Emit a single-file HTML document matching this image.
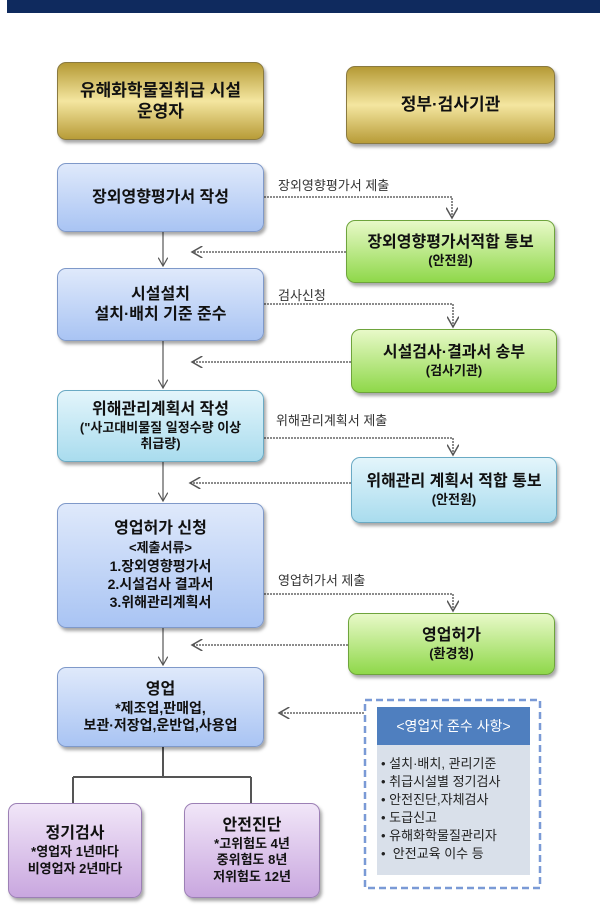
<!DOCTYPE html>
<html><head><meta charset="utf-8"><style>
body{margin:0;width:600px;height:909px;background:#fff;position:relative;overflow:hidden;font-family:"Liberation Sans","Noto Sans CJK KR",sans-serif;}
.b{position:absolute;box-sizing:border-box;border-radius:9px;display:flex;flex-direction:column;justify-content:center;align-items:center;text-align:center;font-weight:bold;color:#111;line-height:1.25;box-shadow:2px 3px 3px rgba(0,0,0,.35);}
.gold{background:linear-gradient(#b59a35,#f4e6a0 50%,#b89c38);border:1px solid #8a7a40;font-size:17px;}
.blue{background:linear-gradient(#dfe9fb,#a9c4f3);border:1px solid #7f99c9;font-size:16px;}
.green{background:linear-gradient(#e8f9c8,#8fd84a);border:1px solid #6ea43c;font-size:16px;}
.cyan{background:linear-gradient(#e3f5fb,#a9dcee);border:1px solid #6aaac4;font-size:16px;}
.pur{background:linear-gradient(#f1e6f8,#c9a7df);border:1px solid #9c80b5;font-size:16px;}
.s{font-size:13px;}
.lbl{position:absolute;font-size:13px;color:#333;}
</style></head><body>
<div style="position:absolute;left:7px;top:0px;width:593px;height:13px;background:#0f2a5e;"></div>
<svg style="position:absolute;left:0;top:0" width="600" height="909">
<defs><marker id="a" markerWidth="8" markerHeight="8" refX="7" refY="4" orient="auto"><path d="M0,0 L7,4 L0,8" fill="none" stroke="#555" stroke-width="1"/></marker></defs>
<g stroke="#666" stroke-width="1.5" fill="none" stroke-dasharray="2,1">
<path d="M264,197 H452 V218" marker-end="url(#a)"/>
<path d="M346,252 H192" marker-end="url(#a)"/>
<path d="M264,304 H453 V327" marker-end="url(#a)"/>
<path d="M351,362 H192" marker-end="url(#a)"/>
<path d="M264,438 H453 V455" marker-end="url(#a)"/>
<path d="M351,483 H190" marker-end="url(#a)"/>
<path d="M264,594 H453 V611" marker-end="url(#a)"/>
<path d="M348,645 H192" marker-end="url(#a)"/>
<path d="M364,713 H279" marker-end="url(#a)"/>
</g>
<g stroke="#555" stroke-width="1.2" fill="none">
<path d="M163,232 V266" marker-end="url(#a)"/>
<path d="M163,341 V388" marker-end="url(#a)"/>
<path d="M163,462 V501" marker-end="url(#a)"/>
<path d="M163,628 V665" marker-end="url(#a)"/>
<path d="M163,747 V777 M73,777 H251 M73,777 V803 M251,777 V803" stroke-width="2"/>
</g>
<rect x="365" y="700" width="175" height="188" fill="none" stroke="#7a9ad6" stroke-width="2.5" stroke-dasharray="7,4"/>
</svg>
<div class="b gold" style="left:57px;top:62px;width:207px;height:78px;">유해화학물질취급 시설<br>운영자</div>
<div class="b gold" style="left:346px;top:66px;width:209px;height:78px;">정부·검사기관</div>
<div class="b blue" style="left:57px;top:163px;width:207px;height:69px;">장외영향평가서 작성</div>
<div class="lbl" style="left:278px;top:175px;">장외영향평가서 제출</div>
<div class="b green" style="left:346px;top:220px;width:209px;height:63px;">장외영향평가서적합 통보<span class="s">(안전원)</span></div>
<div class="b blue" style="left:57px;top:268px;width:207px;height:73px;">시설설치<br>설치·배치 기준 준수</div>
<div class="lbl" style="left:278px;top:285px;">검사신청</div>
<div class="b green" style="left:351px;top:329px;width:206px;height:64px;">시설검사·결과서 송부<span class="s">(검사기관)</span></div>
<div class="b cyan" style="left:57px;top:390px;width:207px;height:72px;">위해관리계획서 작성<span class="s">("사고대비물질 일정수량 이상<br>취급량)</span></div>
<div class="lbl" style="left:276px;top:410px;">위해관리계획서 제출</div>
<div class="b cyan" style="left:351px;top:457px;width:206px;height:66px;">위해관리 계획서 적합 통보<span class="s">(안전원)</span></div>
<div class="b blue" style="left:57px;top:503px;width:207px;height:125px;line-height:1.3;">영업허가 신청<span class="s">&lt;제출서류&gt;</span><span style="font-size:14px">1.장외영향평가서<br>2.시설검사 결과서<br>3.위해관리계획서</span></div>
<div class="lbl" style="left:278px;top:570px;">영업허가서 제출</div>
<div class="b green" style="left:348px;top:613px;width:207px;height:62px;">영업허가<span class="s">(환경청)</span></div>
<div class="b blue" style="left:57px;top:667px;width:207px;height:80px;">영업<span style="font-size:14px">*제조업,판매업,<br>보관·저장업,운반업,사용업</span></div>
<div class="b pur" style="left:8px;top:803px;width:134px;height:95px;">정기검사<span style="font-size:13px">*영업자 1년마다<br>비영업자 2년마다</span></div>
<div class="b pur" style="left:184px;top:803px;width:136px;height:95px;">안전진단<span style="font-size:13px">*고위험도 4년<br>중위험도 8년<br>저위험도 12년</span></div>
<div style="position:absolute;left:377px;top:707px;width:153px;height:38px;background:#4f7fbf;color:#fff;font-size:14px;display:flex;align-items:center;justify-content:center;">&lt;영업자 준수 사항&gt;</div>
<div style="position:absolute;left:377px;top:745px;width:153px;height:130px;background:#d9e0ea;color:#222;font-size:13px;line-height:18px;padding:10px 0 0 4px;box-sizing:border-box;">• 설치·배치, 관리기준<br>• 취급시설별 정기검사<br>• 안전진단,자체검사<br>• 도급신고<br>• 유해화학물질관리자<br>•&nbsp; 안전교육 이수 등</div>
</body></html>
